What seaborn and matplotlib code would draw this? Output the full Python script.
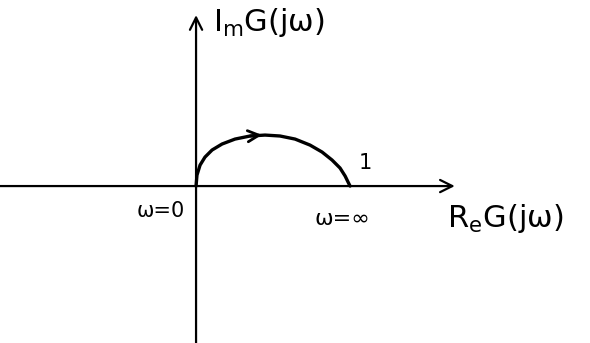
import pandas as pd
import matplotlib
matplotlib.use("Agg")
import matplotlib.pyplot as plt
import seaborn as sns

# Nyquist curve (Re, Im)
re_vals = [0.0, 0.006, 0.026, 0.058, 0.104, 0.169, 0.253, 0.351, 0.448,
           0.545, 0.643, 0.740, 0.818, 0.883, 0.935, 0.968, 0.987, 1.0]
im_vals = [0.0, 0.071, 0.136, 0.188, 0.234, 0.273, 0.305, 0.325, 0.331,
           0.325, 0.305, 0.266, 0.221, 0.169, 0.117, 0.065, 0.026, 0.0]
start_label = "ω=0"
end_label = "ω=∞"
end_value = "1"
x_label = r"R$_\mathrm{e}$G(jω)"
y_label = r"I$_\mathrm{m}$G(jω)"

df = pd.DataFrame({"re": re_vals, "im": im_vals})

sns.set_style("white")
plt.rcParams["font.family"] = ["DejaVu Sans"]
plt.rcParams["text.color"] = "black"

fig = plt.figure(figsize=(5.9, 3.43), dpi=100)
ax = fig.add_axes([0, 0, 1, 1])
ax.set_xlim(-1.273, 2.558)
ax.set_ylim(-1.019, 1.208)
ax.axis("off")

# axes with arrows
ax.annotate("", xy=(1.68, 0), xytext=(-1.273, 0),
            arrowprops=dict(arrowstyle="->", lw=1.6, color="black",
                            mutation_scale=22, shrinkA=0, shrinkB=0))
ax.annotate("", xy=(0, 1.11), xytext=(0, -1.019),
            arrowprops=dict(arrowstyle="->", lw=1.6, color="black",
                            mutation_scale=22, shrinkA=0, shrinkB=0))

# the curve
sns.lineplot(data=df, x="re", y="im", sort=False, color="black", lw=2.4, ax=ax)

# direction arrow on the curve
ax.annotate("", xy=(df.re[8] - 0.02, df.im[8] + 0.001), xytext=(df.re[7], df.im[7]),
            arrowprops=dict(arrowstyle="->", lw=2.0, color="black",
                            mutation_scale=20, shrinkA=0, shrinkB=0))

ax.text(-0.23, -0.16, start_label, fontsize=15, ha="center", va="center")
ax.text(0.95, -0.215, end_label, fontsize=16, ha="center", va="center")
ax.text(1.10, 0.15, end_value, fontsize=15, ha="center", va="center")
ax.text(1.63, -0.21, x_label, fontsize=22, ha="left", va="center")
ax.text(0.11, 1.065, y_label, fontsize=22, ha="left", va="center")

fig.savefig("out.png", dpi=100)
